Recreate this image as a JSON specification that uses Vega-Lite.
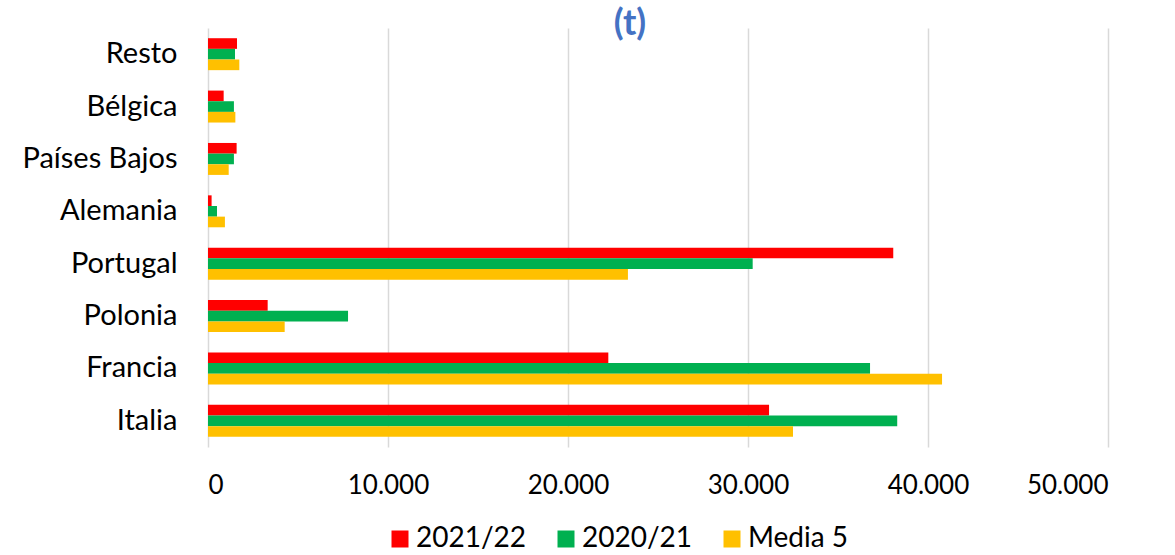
{
  "$schema": "https://vega.github.io/schema/vega-lite/v6.json",
  "width": 900,
  "height": 419,
  "autosize": {"type": "none"},
  "padding": {"left": 208, "top": 28, "right": 67, "bottom": 108},
  "background": "white",
  "title": {"text": "(t)", "font": "Lato", "fontSize": 36, "fontWeight": "bold", "color": "#4472C4", "anchor": "middle", "dx": -28, "dy": 34, "baseline": "alphabetic", "offset": -9},
  "config": {
    "view": {"stroke": null},
    "locale": {"number": {"decimal": ",", "thousands": ".", "grouping": [3], "currency": ["", " €"]}}
  },
  "data": {"values": [
    {"pais": "Resto", "serie": "2021/22", "valor": 1610},
    {"pais": "Resto", "serie": "2020/21", "valor": 1500},
    {"pais": "Resto", "serie": "Media 5", "valor": 1740},
    {"pais": "Bélgica", "serie": "2021/22", "valor": 870},
    {"pais": "Bélgica", "serie": "2020/21", "valor": 1440},
    {"pais": "Bélgica", "serie": "Media 5", "valor": 1520},
    {"pais": "Países Bajos", "serie": "2021/22", "valor": 1590},
    {"pais": "Países Bajos", "serie": "2020/21", "valor": 1440},
    {"pais": "Países Bajos", "serie": "Media 5", "valor": 1150},
    {"pais": "Alemania", "serie": "2021/22", "valor": 200},
    {"pais": "Alemania", "serie": "2020/21", "valor": 500},
    {"pais": "Alemania", "serie": "Media 5", "valor": 940},
    {"pais": "Portugal", "serie": "2021/22", "valor": 38070},
    {"pais": "Portugal", "serie": "2020/21", "valor": 30260},
    {"pais": "Portugal", "serie": "Media 5", "valor": 23330},
    {"pais": "Polonia", "serie": "2021/22", "valor": 3315},
    {"pais": "Polonia", "serie": "2020/21", "valor": 7780},
    {"pais": "Polonia", "serie": "Media 5", "valor": 4260},
    {"pais": "Francia", "serie": "2021/22", "valor": 22240},
    {"pais": "Francia", "serie": "2020/21", "valor": 36780},
    {"pais": "Francia", "serie": "Media 5", "valor": 40780},
    {"pais": "Italia", "serie": "2021/22", "valor": 31170},
    {"pais": "Italia", "serie": "2020/21", "valor": 38290},
    {"pais": "Italia", "serie": "Media 5", "valor": 32500}
  ]},
  "mark": {"type": "bar"},
  "encoding": {
    "y": {
      "field": "pais", "type": "nominal",
      "sort": ["Resto", "Bélgica", "Países Bajos", "Alemania", "Portugal", "Polonia", "Francia", "Italia"],
      "scale": {"paddingInner": 0.39, "paddingOuter": 0.195},
      "axis": {"title": null, "domain": false, "ticks": false, "labelFont": "Lato", "labelFontSize": 29, "labelColor": "#000000", "labelPadding": 31}
    },
    "yOffset": {
      "field": "serie", "type": "nominal",
      "sort": ["2021/22", "2020/21", "Media 5"],
      "scale": {"paddingInner": 0, "paddingOuter": 0}
    },
    "x": {
      "field": "valor", "type": "quantitative",
      "scale": {"domain": [0, 50000], "nice": false},
      "axis": {"title": null, "values": [0, 10000, 20000, 30000, 40000, 50000], "format": ",d", "domain": false, "ticks": false, "grid": true, "gridColor": "#d9d9d9", "gridWidth": 1.5, "labelFont": "Lato", "labelFontSize": 26, "labelPadding": 25, "labelColor": "#000000"}
    },
    "color": {
      "field": "serie", "type": "nominal",
      "scale": {"domain": ["2021/22", "2020/21", "Media 5"], "range": ["#FF0000", "#00B050", "#FFC000"]},
      "legend": {"orient": "none", "legendX": 178, "legendY": 497, "direction": "horizontal", "title": null, "symbolType": "square", "symbolSize": 289, "symbolStrokeWidth": 0, "symbolOpacity": 1, "labelFont": "Lato", "labelFontSize": 28, "labelColor": "#000000", "labelOffset": 2, "columnPadding": 25, "labelLimit": 300}
    }
  }
}
